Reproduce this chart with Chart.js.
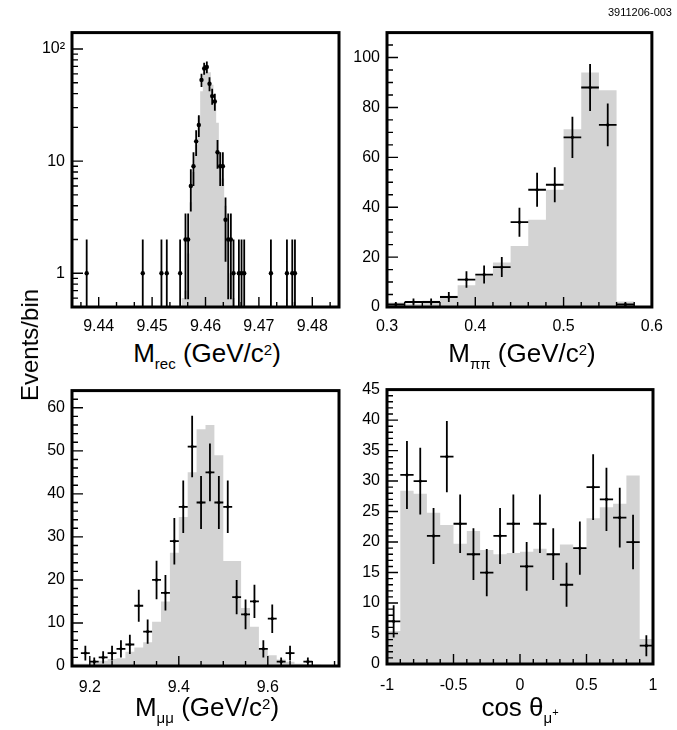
<!DOCTYPE html>
<html>
<head>
<meta charset="utf-8">
<script src="https://cdn.jsdelivr.net/npm/chart.js@4.4.0/dist/chart.umd.min.js"></script>
<style>
  body { margin: 0; background: #fff; width: 677px; height: 730px; position: relative; overflow: hidden;
         font-family: "Liberation Sans", Arial, sans-serif; }
  canvas { position: absolute; }
  .lbl { position: absolute; color: #000; white-space: nowrap; line-height: 1; }
  .title { font-size: 26px; width: 300px; text-align: center; }
  .title sub { font-size: 15px; vertical-align: -0.45em; line-height: 0; }
  .title sup { font-size: 15px; vertical-align: 0.5em; line-height: 0; }
  .title sub sup { font-size: 11px; vertical-align: 0.6em; }
</style>
</head>
<body>
<canvas id="cRec"></canvas>
<canvas id="cPiPi"></canvas>
<canvas id="cMuMu"></canvas>
<canvas id="cCos"></canvas>

<div class="lbl" style="right:5px; top:7px; font-size:11px;">3911206-003</div>
<div class="lbl" style="left:30px; top:345px; font-size:24px; transform:translate(-50%,-50%) rotate(-90deg);">Events/bin</div>
<div class="lbl title" style="left:57px; top:340px;">M<sub>rec</sub> (GeV/c<sup>2</sup>)</div>
<div class="lbl title" style="left:372px; top:340px;">M<sub>ππ</sub> (GeV/c<sup>2</sup>)</div>
<div class="lbl title" style="left:57px; top:694px;">M<sub>μμ</sub> (GeV/c<sup>2</sup>)</div>
<div class="lbl title" style="left:370px; top:694px;">cos θ<sub>μ<sup>+</sup></sub></div>

<script>
// recoil mass (top left, log y) - data points and signal MC, 0.5 MeV bins
const recX = [9.43775, 9.44825, 9.45175, 9.45275, 9.45525,
  9.45625, 9.45675, 9.45725, 9.45775, 9.45825, 9.45875, 9.45925, 9.45975, 9.46025,
  9.46075, 9.46125, 9.46175, 9.46225, 9.46275, 9.46325, 9.46375, 9.46425, 9.46475,
  9.46525, 9.46625, 9.46675, 9.46725, 9.47225, 9.47525, 9.47625, 9.47675];
const recData = [1, 1, 1, 1, 1,
  2, 2, 6, 9, 15, 21, 53, 67, 69, 49, 38, 34, 12, 9, 9, 3, 2, 2,
  1, 1, 1, 1, 1, 1, 1, 1];
const recMcX = [9.45575, 9.45625, 9.45675, 9.45725, 9.45775, 9.45825, 9.45875, 9.45925, 9.45975, 9.46025,
  9.46075, 9.46125, 9.46175, 9.46225, 9.46275, 9.46325, 9.46375, 9.46425, 9.46475, 9.46525];
const recMc = [0.6, 0.7, 1.5, 4.3, 8, 14, 25, 42, 62, 72, 62, 48, 34, 22, 12, 7, 4, 2, 1, 0.6];

// dipion mass (top right)
const pipiX = [0.31, 0.33, 0.35, 0.37, 0.39, 0.41, 0.43, 0.45, 0.47, 0.49, 0.51, 0.53, 0.55, 0.57];
const pipiData = [1, 2, 2, 4, 11, 13, 16, 34, 47, 49, 68, 88, 73, 1];
const pipiMc = [1.8, 1.3, 2.5, 4.5, 8.7, 12.6, 17.8, 24.5, 35, 47, 71.3, 94, 86.9, 2.2];

// dimuon mass (bottom left)
const mumuX = [9.19, 9.21, 9.23, 9.25, 9.27, 9.29, 9.31, 9.33, 9.35, 9.37, 9.39, 9.41, 9.43,
  9.45, 9.47, 9.49, 9.51, 9.53, 9.55, 9.57, 9.59, 9.61, 9.63, 9.65, 9.69];
const mumuData = [3, 1, 2, 3, 4, 5, 14, 8, 20, 17, 29, 37, 51, 38, 45, 38, 37, 16, 12, 15, 4, 11, 1, 3, 1];
const mumuMcX = [9.17, 9.19, 9.21, 9.23, 9.25, 9.27, 9.29, 9.31, 9.33, 9.35, 9.37, 9.39, 9.41, 9.43, 9.45,
  9.47, 9.49, 9.51, 9.53, 9.55, 9.57, 9.59, 9.61, 9.63, 9.65, 9.67, 9.69, 9.71, 9.73, 9.75];
const mumuMc = [0.5, 0.5, 0.8, 1.2, 1.6, 1.8, 3.3, 4.3, 5.5, 10.3, 15, 26.3, 34.6, 45, 55,
  56, 49, 24.4, 24.4, 13.5, 9.1, 3.8, 2.5, 1.5, 1.0, 0.5, 0.4, 0.3, 0.2, 0.2];

// cos theta mu+ (bottom right)
const cosX = [-0.95, -0.85, -0.75, -0.65, -0.55, -0.45, -0.35, -0.25, -0.15, -0.05,
  0.05, 0.15, 0.25, 0.35, 0.45, 0.55, 0.65, 0.75, 0.85, 0.95];
const cosData = [7, 31, 30, 21, 34, 23, 18, 15, 21, 23, 16, 23, 18, 13, 19, 29, 27, 24, 20, 3];
const cosMc = [5.4, 28.4, 27.9, 24.8, 22.8, 19.7, 21.8, 18.7, 18.0, 18.2,
  18.4, 18.9, 18.0, 19.6, 19.0, 23.9, 25.7, 26.3, 30.9, 4.1];

// tick labels
const recTicks = [9.44, 9.45, 9.46, 9.47, 9.48];
const recYTicks = [1, 10, 100];
const pipiTicks = [0.3, 0.4, 0.5, 0.6];
const pipiYTicks = [0, 20, 40, 60, 80, 100];
const mumuTicks = [9.2, 9.4, 9.6];
const mumuYTicks = [0, 10, 20, 30, 40, 50, 60];
const cosTicks = [-1, -0.5, 0, 0.5, 1];
const cosYTicks = [0, 5, 10, 15, 20, 25, 30, 35, 40, 45];

const GRAY = 'rgb(211,211,211)';
const font = { family: '"Liberation Sans", Arial, sans-serif', size: 16 };

function steps(from, to, d) {
  const out = [];
  for (let v = from; v <= to + d * 1e-3; v += d) out.push(+v.toFixed(6));
  return out;
}

// histogram as a stepped outline from bin low edges
function histPoints(centers, vals, w) {
  const pts = centers.map((c, i) => ({ x: c - w / 2, y: vals[i] }));
  pts.push({ x: centers[centers.length - 1] + w / 2, y: vals[vals.length - 1] });
  return pts;
}

// error bars as one broken line: vertical sqrt(N), optional horizontal bin width
function errPoints(xs, ys, w, yMin) {
  const pts = [];
  xs.forEach((x, i) => {
    const e = Math.sqrt(ys[i]);
    pts.push({ x: x, y: Math.max(ys[i] - e, yMin) }, { x: x, y: ys[i] + e }, { x: x, y: null });
    if (w) pts.push({ x: x - w / 2, y: ys[i] }, { x: x + w / 2, y: ys[i] }, { x: x, y: null });
  });
  return pts;
}

function sets(mcX, mc, w, xs, ys, barW, yMin, r) {
  return [
    { data: errPoints(xs, ys, barW, yMin), borderColor: '#000', borderWidth: 1.8, pointRadius: 0, spanGaps: false, order: 2 },
    { data: xs.map((x, i) => ({ x: x, y: ys[i] })), showLine: false, pointRadius: r, pointBackgroundColor: '#000', pointBorderWidth: 0, order: 1 },
    { data: histPoints(mcX, mc, w), stepped: true, fill: 'start', backgroundColor: GRAY, borderWidth: 0, borderColor: 'rgba(0,0,0,0)', pointRadius: 0, order: 3 }
  ];
}

// frame + ROOT style inward ticks
const frameTicks = {
  id: 'frameTicks',
  afterDatasetsDraw(chart, args, o) {
    const { ctx, chartArea: a, scales: { x, y } } = chart;
    ctx.save();
    ctx.strokeStyle = '#000';
    ctx.lineWidth = 1.4;
    ctx.beginPath();
    const xt = (v, len) => { const p = x.getPixelForValue(v); if (p < a.left + 1 || p > a.right - 1) return; ctx.moveTo(p, a.bottom); ctx.lineTo(p, a.bottom - len); };
    const yt = (v, len) => { const p = y.getPixelForValue(v); if (p < a.top + 1 || p > a.bottom - 1) return; ctx.moveTo(a.left, p); ctx.lineTo(a.left + len, p); };
    o.xMajor.forEach(v => xt(v, 10));
    o.xMinor.forEach(v => xt(v, 5));
    o.yMajor.forEach(v => yt(v, 11));
    o.yMinor.forEach(v => yt(v, 6));
    ctx.stroke();
    ctx.lineWidth = 3;
    ctx.strokeRect(a.left, a.top, a.right - a.left, a.bottom - a.top);
    ctx.restore();
  }
};

function panel(id, box, xr, yr, datasets, ticks, pad) {
  const cv = document.getElementById(id);
  cv.width = box.r - box.l + 80;
  cv.height = box.b - box.t + 40;
  cv.style.left = (box.l - 60) + 'px';
  cv.style.top = (box.t - 10) + 'px';
  return new Chart(cv, {
    type: 'line',
    data: { datasets: datasets },
    options: {
      responsive: false,
      animation: false,
      layout: { padding: { left: 0, top: 10, right: 20, bottom: 0 } },
      plugins: { legend: { display: false }, tooltip: { enabled: false }, frameTicks: ticks },
      scales: {
        x: {
          type: 'linear', min: xr[0], max: xr[1],
          afterFit: s => { s.height = 30; },
          afterBuildTicks: s => { s.ticks = ticks.xMajor.map(v => ({ value: v })); },
          grid: { display: false, drawTicks: false }, border: { display: false },
          ticks: { font: font, color: '#000', padding: pad, maxRotation: 0, autoSkip: false, callback: ticks.xFmt }
        },
        y: {
          type: yr[2] || 'linear', min: yr[0], max: yr[1],
          afterFit: s => { s.width = 60; },
          afterBuildTicks: s => { s.ticks = ticks.yMajor.map(v => ({ value: v })); },
          grid: { display: false, drawTicks: false }, border: { display: false },
          ticks: { font: font, color: '#000', padding: 7, autoSkip: false, callback: ticks.yFmt }
        }
      }
    },
    plugins: [frameTicks]
  });
}

const plain = v => String(v);

panel('cRec', { l: 72, r: 339, t: 26, b: 307 }, [9.435, 9.485], [0.5, 140, 'logarithmic'],
  sets(recMcX, recMc, 0.0005, recX, recData, 0, 0.5, 2.2),
  { xMajor: recTicks, xMinor: steps(9.43667, 9.48334, 0.01 / 3), yMajor: recYTicks,
    yMinor: [0.6, 0.7, 0.8, 0.9, 2, 3, 4, 5, 6, 7, 8, 9, 20, 30, 40, 50, 60, 70, 80, 90],
    xFmt: v => v.toFixed(2), yFmt: v => (v === 100 ? '10²' : String(v)) }, 10);

panel('cPiPi', { l: 387, r: 653, t: 26, b: 307 }, [0.3, 0.6], [0, 110],
  sets(pipiX, pipiMc, 0.02, pipiX, pipiData, 0.02, 0, 1.6),
  { xMajor: pipiTicks, xMinor: steps(0.3, 0.6, 0.02), yMajor: pipiYTicks, yMinor: steps(0, 110, 5),
    xFmt: plain, yFmt: plain }, 10);

panel('cMuMu', { l: 72, r: 339, t: 384, b: 666 }, [9.16, 9.76], [0, 64],
  sets(mumuMcX, mumuMc, 0.02, mumuX, mumuData, 0.02, 0, 1.6),
  { xMajor: mumuTicks, xMinor: steps(9.2, 9.75, 0.05), yMajor: mumuYTicks, yMinor: steps(0, 64, 2),
    xFmt: v => v.toFixed(1), yFmt: plain }, 12);

panel('cCos', { l: 387, r: 653, t: 383, b: 664 }, [-1, 1], [0, 45],
  sets(cosX, cosMc, 0.1, cosX, cosData, 0.1, 0, 1.6),
  { xMajor: cosTicks, xMinor: steps(-1, 1, 0.1), yMajor: cosYTicks, yMinor: steps(0, 45, 1),
    xFmt: plain, yFmt: plain }, 12);
</script>
</body>
</html>
